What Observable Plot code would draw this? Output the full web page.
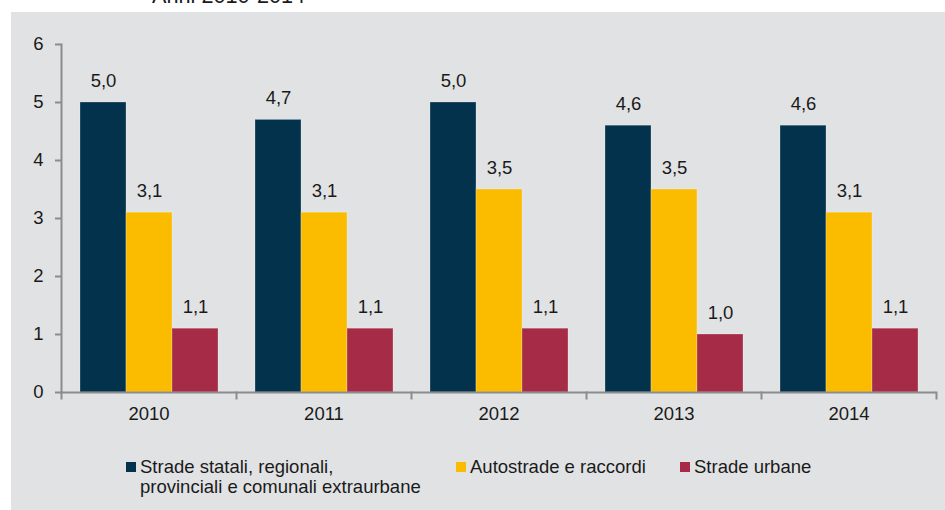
<!DOCTYPE html>
<html>
<head>
<meta charset="utf-8">
<script src="https://cdn.jsdelivr.net/npm/d3@7"></script>
<script src="https://cdn.jsdelivr.net/npm/@observablehq/plot@0.6"></script>
<style>
  html, body { margin: 0; padding: 0; background: #ffffff; width: 945px; height: 510px; overflow: hidden; position: relative; font-family: "Liberation Sans", Arial, sans-serif; color: #1a1a1a; }
  #title { position: absolute; left: 152px; top: -15px; font-size: 21.7px; line-height: 21px; white-space: nowrap; }
  #panel { position: absolute; left: 11px; top: 12px; width: 934px; height: 498px; background: #e1e2e4; }
  #chart { position: absolute; left: 0; top: 0; }
  #legend { position: absolute; left: 115px; top: 445px; display: flex; font-size: 18.5px; line-height: 20px; }
  .item { display: flex; align-items: flex-start; flex-shrink: 0; }
  .sw { width: 10px; height: 10px; margin-top: 5px; margin-right: 4px; flex-shrink: 0; }
  .tx { white-space: pre-line; }
</style>
</head>
<body>
<div id="title">Anni 2010-2014</div>
<div id="panel">
  <div id="chart"></div>
  <div id="legend"></div>
</div>
<script>
const years = ["2010", "2011", "2012", "2013", "2014"];
const seriesNames = [
  "Strade statali, regionali, provinciali e comunali extraurbane",
  "Autostrade e raccordi",
  "Strade urbane"
];
const legendLabels = [
  "Strade statali, regionali,\nprovinciali e comunali extraurbane",
  "Autostrade e raccordi",
  "Strade urbane"
];
const strade_statali = [5.0, 4.7, 5.0, 4.6, 4.6];
const autostrade = [3.1, 3.1, 3.5, 3.5, 3.1];
const strade_urbane = [1.1, 1.1, 1.1, 1.0, 1.1];
const yTicks = [0, 1, 2, 3, 4, 5, 6];
const colors = ["#03334c", "#fbbc00", "#a52b46"];

const valuesBySeries = [strade_statali, autostrade, strade_urbane];
const data = [];
years.forEach((yr, i) => {
  seriesNames.forEach((s, j) => {
    data.push({year: yr, series: s, value: valuesBySeries[j][i]});
  });
});

const fmt = v => v.toFixed(1).replace(".", ",");

const W = 934, H = 420, mT = 32, mB = 40, mL = 50, mR = 9;
const innerH = H - mT - mB;
const axisColor = "#8c8c8c";

const chart = Plot.plot({
  width: W,
  height: H,
  marginTop: mT,
  marginBottom: mB,
  marginLeft: mL,
  marginRight: mR,
  style: {background: "transparent", fontFamily: "'Liberation Sans', Arial, sans-serif", fontSize: "18.5px", color: "#1a1a1a"},
  fx: {domain: years, padding: 0, axis: null, label: null},
  x: {domain: seriesNames, paddingInner: 0, paddingOuter: 0.402, axis: null},
  y: {domain: [0, 6], axis: null},
  color: {domain: seriesNames, range: colors},
  marks: [
    Plot.barY(data, {fx: "year", x: "series", y: "value", fill: "series", stroke: "#ffffff", strokeOpacity: 0.25, strokeWidth: 1}),
    Plot.text(data, {fx: "year", x: "series", y: "value", text: d => fmt(d.value), lineAnchor: "bottom", dy: -16, fill: "#1a1a1a"}),
    Plot.ruleY([0], {stroke: axisColor, strokeWidth: 2}),
    Plot.frame({anchor: "left", facetAnchor: "left", stroke: axisColor, strokeWidth: 2}),
    Plot.frame({anchor: "left", stroke: axisColor, strokeWidth: 2, insetTop: innerH, insetBottom: -6}),
    Plot.frame({anchor: "right", facetAnchor: "right", stroke: axisColor, strokeWidth: 2, insetTop: innerH, insetBottom: -6}),
    Plot.axisY({ticks: yTicks, tickSize: 6, tickPadding: 12, stroke: axisColor, strokeWidth: 2, fill: "#1a1a1a", label: null, tickFormat: d => String(d)}),
    Plot.axisFx({anchor: "bottom", tickSize: 0, tickPadding: 14, label: null, fill: "#1a1a1a"})
  ]
});
document.getElementById("chart").appendChild(chart);

const legend = document.getElementById("legend");
const itemWidths = [330, 224, 250];
seriesNames.forEach((s, j) => {
  const item = document.createElement("div");
  item.className = "item";
  item.style.width = itemWidths[j] + "px";
  const sw = document.createElement("div");
  sw.className = "sw";
  sw.style.background = colors[j];
  const tx = document.createElement("div");
  tx.className = "tx";
  tx.textContent = legendLabels[j];
  item.appendChild(sw);
  item.appendChild(tx);
  legend.appendChild(item);
});
</script>
</body>
</html>
